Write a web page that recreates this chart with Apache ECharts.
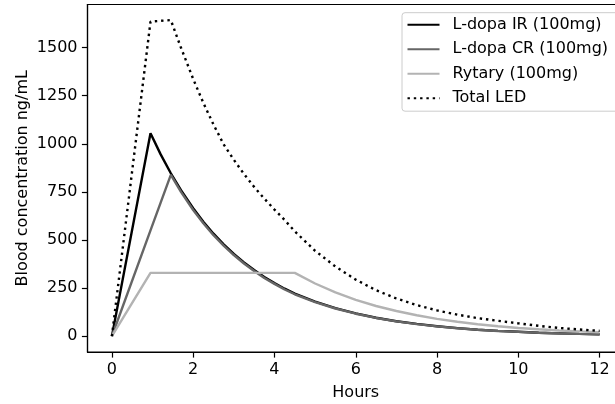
<!DOCTYPE html>
<html>
<head>
<meta charset="utf-8">
<script src="https://cdn.jsdelivr.net/npm/echarts@6/dist/echarts.min.js"></script>
<style>
html,body{margin:0;padding:0;background:#fff;}
#c{width:615px;height:404px;}
</style>
</head>
<body>
<div id="c"></div>
<script>
// ---- data ----
var hours = [0, 0.95, 1.2, 1.45, 1.7, 2, 2.25, 2.5, 2.75, 3, 3.25, 3.5, 3.75, 4, 4.25, 4.5,
             5, 5.5, 6, 6.5, 7, 7.5, 8, 8.5, 9, 9.5, 10, 10.5, 11, 11.5, 12];
var ldopaIR = [0, 1055, 945, 847, 759, 665, 595, 533, 478, 428, 384, 344, 308, 276, 247, 221,
               180, 146, 119, 96, 78, 64, 52, 42, 34, 28, 23, 18, 15, 12, 10];
var ldopaCR = [0, 550, 694, 839, 750, 656, 587, 525, 471, 422, 378, 339, 303, 272, 243, 218,
               177, 144, 117, 95, 77, 63, 51, 41.5, 33.5, 27.5, 22.5, 18, 14.5, 12, 10];
var rytary = [0, 329, 329, 329, 329, 329, 329, 329, 329, 329, 329, 329, 329, 329, 329, 329,
              274, 228, 189, 157, 131, 109, 90, 75, 62, 52, 43, 36, 30, 25, 21];
var totalLED = [0, 1635, 1639, 1643, 1499, 1337, 1213, 1100, 997, 917, 843, 776, 715, 658, 604, 545,
                444, 362, 294, 239, 196, 162, 134, 112, 94, 80, 67, 54, 43, 35, 28];
var seriesNames = ['L-dopa IR (100mg)', 'L-dopa CR (100mg)', 'Rytary (100mg)', 'Total LED'];
var xTicks = [0, 2, 4, 6, 8, 10, 12];
var yTicks = [0, 250, 500, 750, 1000, 1250, 1500];
var xLabel = 'Hours';
var yLabel = 'Blood concentration ng/mL';

function pairs(vals) { return hours.map(function (h, i) { return [h, vals[i]]; }); }

var FONT = 'DejaVu Sans';
var FS = 16;
var chart = echarts.init(document.getElementById('c'), null, {renderer: 'canvas'});
var lw = 2.4;
chart.setOption({
  animation: false,
  backgroundColor: '#fff',
  textStyle: {fontFamily: FONT, color: '#000'},
  grid: {
    left: 87.5, top: 4.5, right: -9, bottom: 52,
    show: true, borderColor: '#000', borderWidth: 1.2, backgroundColor: 'transparent',
    containLabel: false, outerBoundsMode: 'none'
  },
  legend: {
    orient: 'vertical',
    left: 402, top: 12.7,
    padding: [4, 20, 5, 4.5],
    itemGap: 8.5,
    itemWidth: 32, itemHeight: 14,
    backgroundColor: '#fff',
    borderColor: '#cccccc', borderWidth: 1, borderRadius: 3,
    itemStyle: {opacity: 0},
    textStyle: {fontFamily: FONT, fontSize: FS, color: '#000', lineHeight: 16, padding: [0, 0, 0, 8]},
    data: seriesNames
  },
  xAxis: {
    type: 'value', min: -0.6, max: 12.6,
    name: xLabel, nameLocation: 'middle', nameGap: 33, nameMoveOverlap: false,
    nameTextStyle: {fontFamily: FONT, fontSize: FS, color: '#000'},
    axisLine: {show: true, onZero: false, lineStyle: {color: '#000', width: 1.2}},
    axisTick: {show: true, length: 5.6, lineStyle: {color: '#000', width: 1.2}, customValues: xTicks},
    axisLabel: {fontFamily: FONT, fontSize: FS, color: '#000', margin: 10, customValues: xTicks,
                formatter: function (v) { return String(v); }},
    splitLine: {show: false}
  },
  yAxis: {
    type: 'value', min: -82, max: 1724,
    name: yLabel, nameLocation: 'middle', nameGap: 57, nameRotate: 90, nameMoveOverlap: false,
    nameTextStyle: {fontFamily: FONT, fontSize: FS, color: '#000'},
    axisLine: {show: true, onZero: false, lineStyle: {color: '#000', width: 1.2}},
    axisTick: {show: true, length: 5.6, lineStyle: {color: '#000', width: 1.2}, customValues: yTicks},
    axisLabel: {fontFamily: FONT, fontSize: FS, color: '#000', margin: 10, customValues: yTicks,
                formatter: function (v) { return String(v); }},
    splitLine: {show: false}
  },
  series: [
    {name: seriesNames[0], type: 'line', data: pairs(ldopaIR), symbol: 'none', color: '#000000',
     lineStyle: {color: '#000000', width: lw}},
    {name: seriesNames[1], type: 'line', data: pairs(ldopaCR), symbol: 'none', color: '#666666',
     lineStyle: {color: '#666666', width: lw}},
    {name: seriesNames[2], type: 'line', data: pairs(rytary), symbol: 'none', color: '#b3b3b3',
     lineStyle: {color: '#b3b3b3', width: lw}},
    {name: seriesNames[3], type: 'line', data: pairs(totalLED), symbol: 'none', color: '#000000',
     lineStyle: {color: '#000000', width: lw, type: [2.4, 3.9], cap: 'butt'}}
  ]
});
</script>
</body>
</html>
